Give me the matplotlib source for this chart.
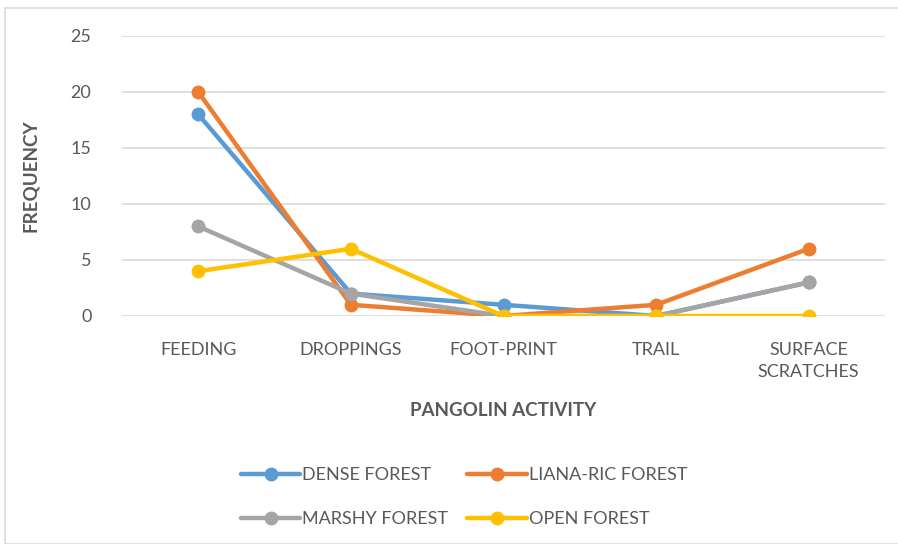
import matplotlib
matplotlib.use("Agg")
import matplotlib.pyplot as plt
from matplotlib.patches import Rectangle

categories = ["FEEDING", "DROPPINGS", "FOOT-PRINT", "TRAIL", "SURFACE\nSCRATCHES"]
dense = [18, 2, 1, 0, 3]
liana = [20, 1, 0, 1, 6]
marshy = [8, 2, 0, 0, 3]
open_f = [4, 6, 0, 0, 0]
series_names = ["DENSE FOREST", "LIANA-RIC FOREST", "MARSHY FOREST", "OPEN FOREST"]
colors = ["#5B9BD5", "#ED7D31", "#A5A5A5", "#FFC000"]
yticks = [0, 5, 10, 15, 20, 25]

plt.rcParams['font.family'] = ['Lato', 'DejaVu Sans']

fig = plt.figure(figsize=(8.98, 5.44), dpi=100)
fig.patches.append(Rectangle((5/898, 0), 1.0, 1 - 8/544, transform=fig.transFigure,
                             fill=False, edgecolor="#D9D9D9", linewidth=1.2))
ax = fig.add_axes([122/898, 1 - 316/544, (885 - 122)/898, (316 - 36)/544])

x = list(range(len(categories)))
handles = []
for vals, name, c in zip([dense, liana, marshy, open_f], series_names, colors):
    h, = ax.plot(x, vals, color=c, linewidth=3.2, marker='o', markersize=9,
                 solid_capstyle='round', label=name, zorder=3)
    handles.append(h)

ax.set_xlim(-0.5, 4.5)
ax.set_ylim(0, 25)
ax.set_yticks(yticks)
ax.set_xticks(x)
ax.set_xticklabels(categories)
ax.grid(axis='y', color="#D9D9D9", linewidth=1.2, zorder=0)
ax.set_axisbelow(True)
for s in ax.spines.values():
    s.set_visible(False)
ax.tick_params(axis='both', length=0, labelsize=13, colors="#595959")
ax.tick_params(axis='y', pad=22)
ax.tick_params(axis='x', pad=19)
for lab in ax.get_xticklabels():
    lab.set_verticalalignment('top')
    lab.set_linespacing(1.45)

fig.text(30/898, 1 - 176/544, "FREQUENCY", rotation=90, ha='center', va='center',
         fontsize=13.5, fontweight='bold', color="#595959")
fig.text(503/898, 1 - 410/544, "PANGOLIN ACTIVITY", ha='center', va='center',
         fontsize=13.5, fontweight='bold', color="#595959")

order = [0, 2, 1, 3]
leg = fig.legend(handles=[handles[i] for i in order], ncol=2, loc='center',
                 bbox_to_anchor=(464/898, 1 - 497/544),
                 frameon=False, fontsize=13, handlelength=3.3, handletextpad=0.1,
                 columnspacing=1.05, labelspacing=1.55, labelcolor="#595959")

fig.savefig("out.png", dpi=100)
